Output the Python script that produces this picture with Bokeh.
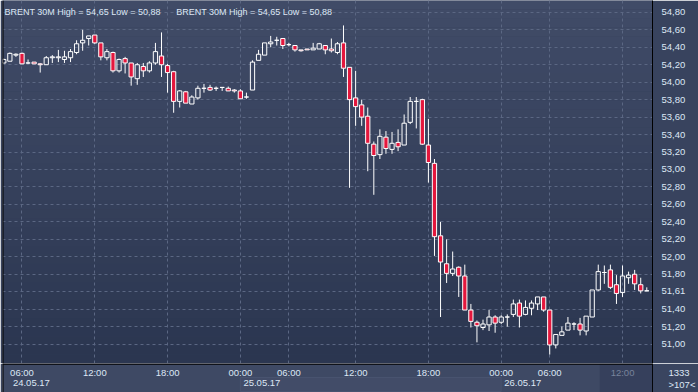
import numpy as np
from bokeh.plotting import figure
from bokeh.layouts import column
from bokeh.models import (ColumnDataSource, Range1d, FixedTicker,
                          BoxAnnotation, Label, Span, CustomJSTickFormatter)
from bokeh.embed import file_html
from bokeh.resources import INLINE

# ---------------- data (BRENT 30M) ----------------
opens = [54.22, 54.24, 54.31, 54.33, 54.22, 54.23, 54.21, 54.20, 54.28, 54.28,
         54.26, 54.28, 54.34, 54.45, 54.50, 54.54, 54.45, 54.28, 54.34, 54.13,
         54.27, 54.22, 54.04, 54.18, 54.13, 54.22, 54.30, 54.19, 54.12, 53.78,
         53.89, 53.75, 53.82, 53.93, 53.94, 53.93, 53.94, 53.93, 53.91, 53.90,
         53.83, 53.91, 54.25, 54.31, 54.44, 54.48, 54.50, 54.43, 54.42, 54.37,
         54.38, 54.37, 54.38, 54.42, 54.38, 54.34, 54.45, 54.17, 53.82, 53.74,
         53.61, 53.29, 53.17, 53.37, 53.23, 53.31, 53.28, 53.54, 53.78, 53.80,
         53.28, 53.07, 52.24, 51.92, 51.81, 51.88, 51.78, 51.39, 51.25, 51.19,
         51.22, 51.31, 51.25, 51.31, 51.34, 51.47, 51.34, 51.41, 51.46, 51.54,
         51.39, 50.99, 51.10, 51.16, 51.23, 51.23, 51.15, 51.31, 51.62, 51.82,
         51.85, 51.68, 51.59, 51.76, 51.80, 51.68, 51.61]
highs = [54.27, 54.34, 54.33, 54.34, 54.26, 54.23, 54.22, 54.30, 54.31, 54.37,
         54.36, 54.38, 54.48, 54.60, 54.53, 54.54, 54.45, 54.38, 54.35, 54.27,
         54.29, 54.22, 54.22, 54.22, 54.24, 54.45, 54.57, 54.21, 54.13, 53.91,
         53.90, 53.85, 53.96, 53.98, 53.97, 53.95, 53.94, 53.95, 53.92, 53.92,
         53.88, 54.25, 54.37, 54.45, 54.53, 54.52, 54.50, 54.45, 54.42, 54.37,
         54.38, 54.45, 54.45, 54.42, 54.50, 54.46, 54.65, 54.17, 54.13, 53.80,
         53.71, 53.32, 53.46, 53.44, 53.43, 53.46, 53.63, 53.83, 53.83, 53.81,
         53.58, 53.12, 52.40, 52.20, 52.06, 51.89, 51.91, 51.46, 51.27, 51.28,
         51.39, 51.33, 51.33, 51.34, 51.51, 51.51, 51.50, 51.50, 51.54, 51.54,
         51.39, 51.11, 51.20, 51.31, 51.25, 51.30, 51.32, 51.62, 51.91, 51.90,
         51.91, 51.79, 51.90, 51.83, 51.85, 51.76, 51.65]
lows = [54.21, 54.24, 54.29, 54.21, 54.21, 54.21, 54.11, 54.20, 54.22, 54.23,
        54.22, 54.23, 54.32, 54.36, 54.42, 54.44, 54.25, 54.25, 54.11, 54.11,
        54.10, 53.96, 53.97, 54.06, 54.11, 54.20, 54.06, 53.88, 53.65, 53.71,
        53.76, 53.75, 53.80, 53.88, 53.90, 53.90, 53.90, 53.90, 53.88, 53.81,
        53.81, 53.91, 54.25, 54.31, 54.40, 54.42, 54.38, 54.41, 54.35, 54.35,
        54.37, 54.37, 54.38, 54.32, 54.34, 54.32, 54.06, 52.79, 53.50, 53.50,
        52.98, 52.71, 53.12, 53.18, 53.18, 53.21, 53.28, 53.52, 53.47, 53.28,
        52.85, 52.01, 51.31, 51.70, 51.78, 51.54, 51.39, 51.19, 51.02, 51.16,
        51.15, 51.13, 51.23, 51.20, 51.31, 51.19, 51.33, 51.33, 51.39, 51.37,
        50.88, 50.95, 51.10, 51.16, 51.16, 51.10, 51.10, 51.31, 51.61, 51.69,
        51.63, 51.46, 51.54, 51.69, 51.62, 51.58, 51.61]
closes = [54.26, 54.33, 54.32, 54.21, 54.22, 54.21, 54.20, 54.28, 54.29, 54.29,
          54.29, 54.35, 54.44, 54.48, 54.53, 54.45, 54.29, 54.35, 54.13, 54.26,
          54.22, 54.06, 54.20, 54.13, 54.22, 54.35, 54.20, 54.11, 53.78, 53.90,
          53.76, 53.83, 53.93, 53.93, 53.91, 53.93, 53.94, 53.90, 53.90, 53.81,
          53.83, 54.23, 54.32, 54.45, 54.46, 54.48, 54.42, 54.43, 54.37, 54.36,
          54.37, 54.39, 54.44, 54.37, 54.36, 54.44, 54.16, 53.80, 53.72, 53.60,
          53.30, 53.16, 53.38, 53.24, 53.30, 53.26, 53.53, 53.78, 53.78, 53.29,
          53.08, 52.23, 51.94, 51.81, 51.86, 51.78, 51.39, 51.26, 51.21, 51.23,
          51.31, 51.24, 51.31, 51.31, 51.46, 51.32, 51.42, 51.47, 51.54, 51.39,
          50.99, 51.11, 51.14, 51.24, 51.23, 51.16, 51.32, 51.62, 51.83, 51.82,
          51.65, 51.58, 51.78, 51.79, 51.69, 51.61, 51.61]

time_ticks = [3, 15, 27, 39, 47, 58, 70, 82, 90, 102]
time_labels = ["06:00", "12:00", "18:00", "00:00", "06:00",
               "12:00", "18:00", "00:00", "06:00", "12:00"]
date_positions = [1.5, 39.5, 82.5]
date_labels = ["24.05.17", "25.05.17", "26.05.17"]
price_ticks = [51.0, 51.2, 51.4, 51.6, 51.8, 52.0, 52.2, 52.4, 52.6, 52.8,
               53.0, 53.2, 53.4, 53.6, 53.8, 54.0, 54.2, 54.4, 54.6, 54.8]
title_text = "BRENT 30M High = 54,65 Low = 50,88"
last_price = 51.61
bars_total_text = "1333"
bars_visible_text = ">107<"

# ---------------- geometry / style ----------------
PX = 6.094          # pixels per candle
PY = 87.3           # pixels per price unit
FRAME_W, FRAME_H = 653, 363
RIGHT_W, STRIP_H = 43, 29
x_start = -1.3 / PX
x_end = x_start + FRAME_W / PX
y_end = 54.60 + 29.3 / PY
y_start = y_end - FRAME_H / PY

DOWN_FILL = "#e4173d"
TXT = "#dde7f5"
GRID = "#5b6783"
FONT = "Liberation Sans"
FS = "9.5px"
PANEL = "#3b4661"

n = len(opens)
idx = np.arange(n)
o = np.array(opens); c = np.array(closes); h = np.array(highs); l = np.array(lows)
top = np.maximum(o, c); bot = np.minimum(o, c)
up = c >= o

src = ColumnDataSource(dict(x=idx, top=top, bot=bot, high=h, low=l,
                            fill=["rgba(0,0,0,0)" if u else DOWN_FILL for u in up]))

# ================= main chart =================
p = figure(width=698, height=FRAME_H, x_range=Range1d(x_start, x_end),
           y_range=Range1d(y_start, y_end), x_axis_location=None,
           y_axis_location="right", output_backend="svg", toolbar_location=None,
           min_border_left=2, min_border_right=RIGHT_W, min_border_top=0,
           min_border_bottom=0)
p.outline_line_color = None
p.border_fill_color = "#38435e"
p.background_fill_color = "#36415c"

# background gradient
N = 40
c_bot = np.array([43, 54, 80]); c_top = np.array([65, 76, 104])
for k in range(N):
    b = y_start + k * (y_end - y_start) / N
    t = y_start + (k + 1) * (y_end - y_start) / N + 0.001
    col = c_bot + (c_top - c_bot) * (k + 0.5) / N
    p.add_layout(BoxAnnotation(bottom=b, top=t,
                               fill_color="#%02x%02x%02x" % tuple(int(v) for v in col),
                               fill_alpha=1, line_alpha=0, level="image"))

# grids
p.xgrid.ticker = FixedTicker(ticks=time_ticks)
p.xgrid.grid_line_color = GRID
p.xgrid.grid_line_dash = "3 3"
p.ygrid.grid_line_color = GRID
p.ygrid.grid_line_dash = "3 3"

# candles
p.segment(x0="x", y0="top", x1="x", y1="high", source=src, line_color="white", line_width=1)
p.segment(x0="x", y0="low", x1="x", y1="bot", source=src, line_color="white", line_width=1)
p.vbar(x="x", width=0.7, top="top", bottom="bot", source=src,
       fill_color="fill", line_color="white", line_width=1)

# right price axis (last price replaces the hidden 51,60 label)
axis_ticks = [t for t in price_ticks if abs(t - last_price) > 0.05] + [last_price]
ya = p.right[0]
ya.ticker = FixedTicker(ticks=axis_ticks)
p.ygrid.ticker = FixedTicker(ticks=price_ticks)
ya.formatter = CustomJSTickFormatter(code="return tick.toFixed(2).replace('.', ',');")
ya.major_tick_line_color = None
ya.minor_tick_line_color = None
ya.major_label_standoff = 3
ya.axis_line_color = "black"
ya.major_label_text_font = FONT
ya.major_label_text_font_size = FS
ya.major_label_text_color = TXT

# left border line
p.add_layout(Span(location=x_start, dimension="height", line_color="black", line_width=2))

# title texts
for xs in (2, 173.7):
    p.add_layout(Label(x=xs, x_units="screen", y=y_end - 11 / PY, text=title_text,
                       text_baseline="alphabetic", text_font=FONT, text_font_size="9px",
                       text_color=TXT))

# ================= bottom time strip =================
s = figure(width=698, height=STRIP_H, x_range=Range1d(x_start, x_end),
           y_range=Range1d(0, STRIP_H), x_axis_location=None, y_axis_location="right",
           output_backend="svg", toolbar_location=None,
           min_border_left=2, min_border_right=RIGHT_W, min_border_top=0, min_border_bottom=0)
s.grid.visible = False
s.outline_line_color = None
s.border_fill_color = "#3a4560"
s.background_fill_color = "#3e4964"

# corner counters on the strip's right axis
sa = s.right[0]
sa.ticker = FixedTicker(ticks=[20, 8])
sa.major_label_overrides = {20: bars_total_text, 8: bars_visible_text}
sa.major_tick_line_color = None
sa.minor_tick_line_color = None
sa.major_label_standoff = 10
sa.axis_line_color = "black"
sa.major_label_text_font = FONT
sa.major_label_text_font_size = FS
sa.major_label_text_color = TXT

# highlighted day strip (25.05.17)
s.add_layout(BoxAnnotation(left=time_ticks[3], right=time_ticks[7], bottom=1, top=15,
                           fill_color="#48536e", line_color="#5e6985", line_width=1))
# current-session box
s.add_layout(BoxAnnotation(left=x_start + 600 / PX, right=x_end, bottom=0, top=28.5,
                           fill_color="#2b3550", line_alpha=0))
# lines
s.add_layout(Span(location=28.6, dimension="width", line_color="black", line_width=1.5))
s.add_layout(Span(location=x_start, dimension="height", line_color="black", line_width=2))

for t, lab in zip(time_ticks, time_labels):
    s.add_layout(Label(x=t, y=20, text=lab, text_align="center", text_baseline="middle",
                       text_font=FONT, text_font_size=FS,
                       text_color="#78839b" if t == time_ticks[-1] else TXT))
for t, lab in zip(date_positions, date_labels):
    s.add_layout(Label(x=t, y=9.5, text=lab, text_align="left", text_baseline="middle",
                       text_font=FONT, text_font_size=FS, text_color=TXT))

layout = column(p, s, spacing=0)
open("out.html", "w").write(file_html(layout, INLINE))
